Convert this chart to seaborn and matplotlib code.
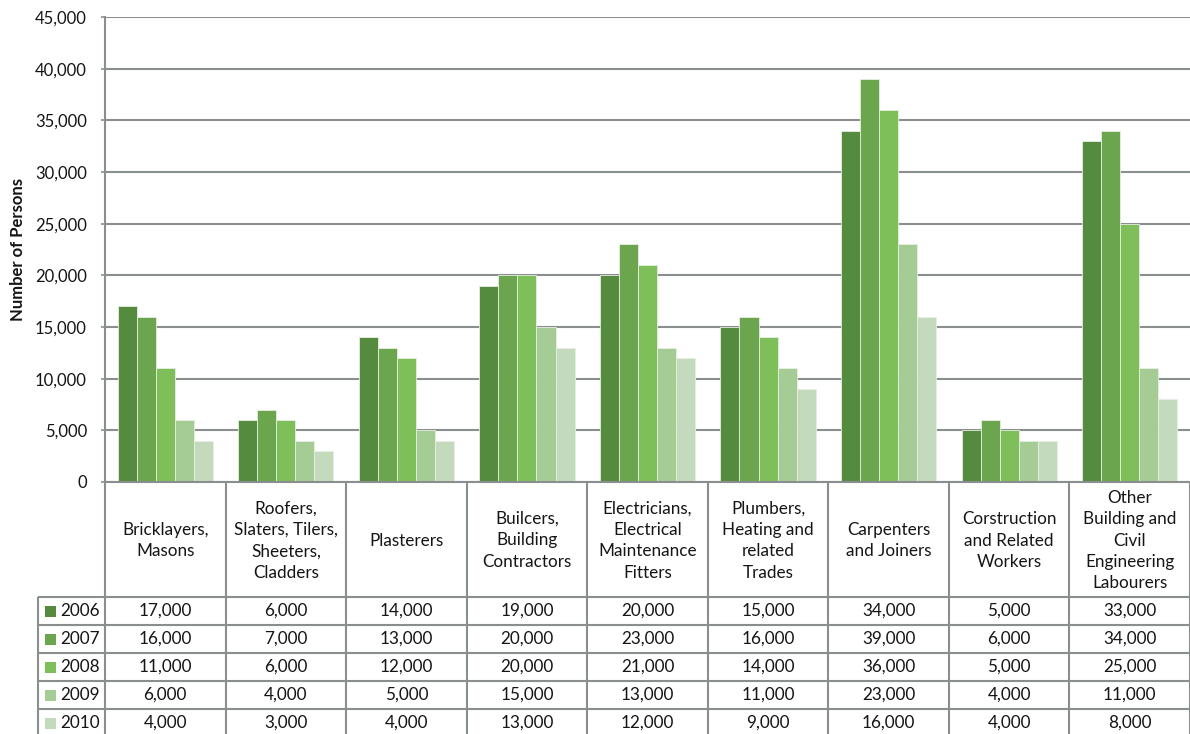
import matplotlib
matplotlib.use("Agg")
import matplotlib.pyplot as plt
import matplotlib.ticker as mticker
from matplotlib.patches import Rectangle
import seaborn as sns
import pandas as pd

occupations = [
    "Bricklayers,\nMasons",
    "Roofers,\nSlaters, Tilers,\nSheeters,\nCladders",
    "Plasterers",
    "Builcers,\nBuilding\nContractors",
    "Electricians,\nElectrical\nMaintenance\nFitters",
    "Plumbers,\nHeating and\nrelated\nTrades",
    "Carpenters\nand Joiners",
    "Corstruction\nand Related\nWorkers",
    "Other\nBuilding and\nCivil\nEngineering\nLabourers",
]
years = ["2006", "2007", "2008", "2009", "2010"]
v2006 = [17000, 6000, 14000, 19000, 20000, 15000, 34000, 5000, 33000]
v2007 = [16000, 7000, 13000, 20000, 23000, 16000, 39000, 6000, 34000]
v2008 = [11000, 6000, 12000, 20000, 21000, 14000, 36000, 5000, 25000]
v2009 = [6000, 4000, 5000, 15000, 13000, 11000, 23000, 4000, 11000]
v2010 = [4000, 3000, 4000, 13000, 12000, 9000, 16000, 4000, 8000]
series = [v2006, v2007, v2008, v2009, v2010]
colors = ["#558B3F", "#6BA64E", "#7EBF5A", "#A6CC95", "#C3DBBC"]

rows = []
for y, vals in zip(years, series):
    for o, v in zip(occupations, vals):
        rows.append({"occupation": o, "year": y, "persons": v})
df = pd.DataFrame(rows)

sns.set_style("white")
plt.rcParams["font.family"] = ["Lato", "DejaVu Sans"]

W, H = 1190, 734
fig = plt.figure(figsize=(W / 100, H / 100), dpi=100)
ax_left, ax_right = 105 / W, 1190 / W
ax_bottom, ax_top = (H - 482) / H, (H - 17) / H
ax = fig.add_axes([ax_left, ax_bottom, ax_right - ax_left, ax_top - ax_bottom])

grid_c = "#8A8E8E"
txt_c = "#151515"
sns.barplot(data=df, x="occupation", y="persons", hue="year", palette=colors,
            width=0.79, ax=ax, legend=False, saturation=1,
            edgecolor="#E6EFE2", linewidth=0.6)
ax.set_xlim(-0.5, len(occupations) - 0.5)
ax.set_ylim(0, 45000)
ax.yaxis.set_major_locator(mticker.MultipleLocator(5000))
ax.yaxis.set_major_formatter(mticker.FuncFormatter(lambda v, p: f"{int(v):,}"))
ax.grid(axis="y", color=grid_c, linewidth=1.5)
ax.set_axisbelow(True)
for s in ["top", "right", "bottom"]:
    ax.spines[s].set_visible(False)
ax.spines["left"].set_color(grid_c)
ax.spines["left"].set_linewidth(1.5)
ax.tick_params(axis="y", length=3, width=1.2, color=grid_c, labelsize=12,
               labelcolor=txt_c, pad=10, left=True)
ax.tick_params(axis="x", bottom=False, labelbottom=False)
ax.set_xlabel("")
ax.set_ylabel("Number of Persons", fontsize=12, fontweight="bold", color=txt_c)
ax.yaxis.set_label_coords((26 - 105) / (W - 105), 0.5)

# Data table below the chart, sharing the category scale
tax = fig.add_axes([ax_left, 0, ax_right - ax_left, ax_bottom])
tax.set_xlim(-0.5, len(occupations) - 0.5)
tax.set_ylim(0, H - 482)
tax.axis("off")
px = (len(occupations)) / (W - 105)  # category units per pixel
header_top = H - 482
header_bot = H - 597
row_h = 28
label_left = -0.5 - (105 - 38) * px
lkw = dict(color=grid_c, linewidth=1.5, clip_on=False, solid_capstyle="butt")

# horizontal lines
tax.plot([-0.5, len(occupations) - 0.5], [header_top, header_top], **lkw)
for r in range(len(years)):
    yy = header_bot - r * row_h
    tax.plot([label_left, len(occupations) - 0.5], [yy, yy], **lkw)
# vertical lines
for i in range(len(occupations) + 1):
    tax.plot([i - 0.5, i - 0.5], [-5, header_top], **lkw)
tax.plot([label_left, label_left], [-5, header_bot], **lkw)

# header texts
for i, o in enumerate(occupations):
    tax.text(i, (header_top + header_bot) / 2 - 1, o, ha="center", va="center",
             fontsize=12.3, linespacing=1.42, color=txt_c)
# rows
for r, (y, vals, c) in enumerate(zip(years, series, colors)):
    yc = header_bot - r * row_h - row_h / 2
    tax.add_patch(Rectangle((label_left + 7 * px, yc - 5.5), 11 * px, 11,
                            facecolor=c, edgecolor="none", clip_on=False))
    tax.text(label_left + 22 * px, yc, y, ha="left", va="center",
             fontsize=12.3, color=txt_c)
    for i, v in enumerate(vals):
        tax.text(i, yc, f"{v:,}", ha="center", va="center", fontsize=12.3,
                 color=txt_c)

fig.savefig("out.png", dpi=100)
